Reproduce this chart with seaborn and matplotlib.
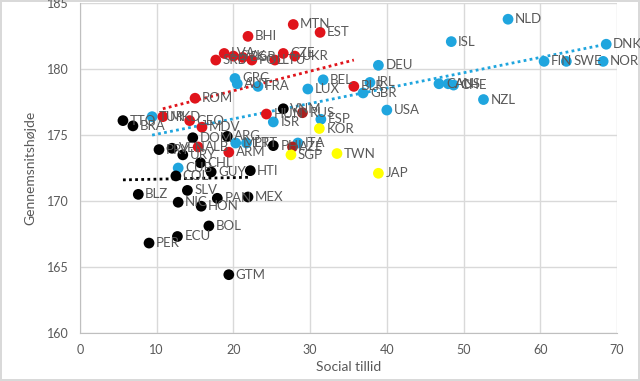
import matplotlib
matplotlib.use("Agg")
import matplotlib.pyplot as plt
import numpy as np
import pandas as pd
import seaborn as sns

# country codes, social trust (x), average height (y), group
blue_names = ['NLD', 'ISL', 'DNK', 'FIN', 'SWE', 'NOR', 'NZL', 'CAN', 'AUS', 'CHE', 'DEU',
              'GRC', 'AUT', 'FRA', 'BEL', 'LUX', 'IRL', 'GBR', 'USA', 'ESP', 'ISR', 'ITA',
              'MLT', 'PRT', 'CUB', 'TUR']
blue_x = [55.8, 48.4, 68.6, 60.5, 63.4, 68.2, 52.6, 46.8, 48.0, 48.7, 38.9,
          20.2, 20.5, 23.2, 31.7, 29.7, 37.8, 36.9, 40.0, 31.4, 25.2, 28.4,
          20.3, 21.7, 12.8, 9.4]
blue_y = [183.8, 182.1, 181.9, 180.6, 180.6, 180.6, 177.7, 178.9, 178.9, 178.8, 180.3,
          179.3, 178.9, 178.7, 179.2, 178.5, 179.0, 178.2, 176.9, 176.2, 176.0, 174.4,
          174.4, 174.4, 172.5, 176.4]

red_names = ['BHI', 'MTN', 'EST', 'SRB', 'LVA', 'SVK', 'BGR', 'POL', 'LTU', 'CZE', 'UKR',
             'ROM', 'MKD', 'GEO', 'MDV', 'ALB', 'ARM', 'HUN', 'BLR']
red_x = [21.9, 27.8, 31.3, 17.7, 18.8, 20.0, 21.2, 22.4, 25.4, 26.5, 28.0,
         15.0, 10.8, 14.3, 15.9, 15.4, 19.4, 24.3, 35.7]
red_y = [182.5, 183.4, 182.8, 180.7, 181.2, 181.0, 180.9, 180.7, 180.7, 181.2, 181.0,
         177.8, 176.4, 176.1, 175.6, 174.1, 173.7, 176.6, 178.7]

darkred_names = ['RUS', 'AZE']
darkred_x = [29.0, 27.7]
darkred_y = [176.7, 174.1]

black_names = ['TTO', 'BRA', 'DOM', 'ARG', 'PRY', 'VEN', 'URY', 'CHL', 'COL', 'GUY', 'HTI',
               'BLZ', 'SLV', 'NIC', 'HON', 'PAN', 'MEX', 'BOL', 'ECU', 'PER', 'GTM']
black_x = [5.6, 6.9, 14.7, 19.2, 10.3, 12.0, 13.4, 15.7, 12.5, 17.1, 22.2,
           7.6, 14.0, 12.8, 15.8, 17.9, 21.9, 16.8, 12.7, 9.0, 19.4]
black_y = [176.1, 175.7, 174.8, 174.9, 173.9, 174.0, 173.5, 172.9, 171.9, 172.2, 172.3,
           170.5, 170.8, 169.9, 169.6, 170.2, 170.3, 168.1, 167.3, 166.8, 164.4]

asia_black_names = ['VNM', 'PHL']
asia_black_x = [26.5, 25.2]
asia_black_y = [177.0, 174.2]

yellow_names = ['KOR', 'SGP', 'TWN', 'JAP']
yellow_x = [31.2, 27.5, 33.5, 38.9]
yellow_y = [175.5, 173.5, 173.6, 172.1]

# trend lines (start and end of each line)
trend_blue_x = [9.4, 68.6]
trend_blue_y = [175.0, 181.9]
trend_red_x = [10.8, 35.7]
trend_red_y = [177.0, 180.7]
trend_black_x = [5.6, 22.2]
trend_black_y = [171.6, 171.8]


def make_group(names, xs, ys, group):
    return pd.DataFrame({'land': names, 'tillid': xs, 'hojde': ys, 'gruppe': group})


df = pd.concat([
    make_group(blue_names, blue_x, blue_y, 'blue'),
    make_group(red_names, red_x, red_y, 'red'),
    make_group(darkred_names, darkred_x, darkred_y, 'darkred'),
    make_group(black_names, black_x, black_y, 'black'),
    make_group(asia_black_names, asia_black_x, asia_black_y, 'black2'),
    make_group(yellow_names, yellow_x, yellow_y, 'yellow'),
], ignore_index=True)

trends = pd.concat([
    pd.DataFrame({'tillid': trend_blue_x, 'hojde': trend_blue_y, 'gruppe': 'blue'}),
    pd.DataFrame({'tillid': trend_red_x, 'hojde': trend_red_y, 'gruppe': 'red'}),
    pd.DataFrame({'tillid': trend_black_x, 'hojde': trend_black_y, 'gruppe': 'black'}),
], ignore_index=True)

colors = {'blue': '#1fa5de', 'red': '#e0141b', 'darkred': '#a8201f',
          'black': '#000000', 'black2': '#000000', 'yellow': '#ffff00'}
textcolor = '#595959'
gridcolor = '#d9d9d9'

sns.set_style('white')
plt.rcParams['font.family'] = ['Lato', 'DejaVu Sans']

fig, ax = plt.subplots(figsize=(6.4, 3.81), dpi=100)
fig.subplots_adjust(left=0.125, right=0.964, top=0.991, bottom=0.127)
fig.patch.set_edgecolor('#d9d9d9')
fig.patch.set_linewidth(1.5)

# dotted linear trend lines
for grp in ['blue', 'red', 'black']:
    sub = trends[trends['gruppe'] == grp]
    sns.lineplot(data=sub, x='tillid', y='hojde', color=colors[grp], ax=ax,
                 linestyle=(0, (1, 1.2)), linewidth=2, zorder=2)

sns.scatterplot(data=df, x='tillid', y='hojde', hue='gruppe', palette=colors,
                s=60, edgecolor='none', legend=False, ax=ax, zorder=3)

for row in df.itertuples():
    ax.annotate(row.land, (row.tillid, row.hojde), xytext=(5, 0), textcoords='offset points',
                va='center', ha='left', fontsize=9.5, color=textcolor, zorder=4)

ax.set_xlim(0, 70)
ax.set_ylim(160, 185)
ax.set_xticks(range(0, 71, 10))
ax.set_yticks(range(160, 186, 5))
ax.grid(True, color=gridcolor, linewidth=1)
ax.set_axisbelow(True)
for side in ['top', 'right']:
    ax.spines[side].set_visible(False)
for side in ['left', 'bottom']:
    ax.spines[side].set_color('#bfbfbf')
ax.tick_params(axis='both', colors=textcolor, labelsize=9, length=0, pad=8)
ax.set_xlabel('Social tillid', color=textcolor, fontsize=10)
ax.set_ylabel('Gennemsnitshøjde', color=textcolor, fontsize=10, labelpad=8)

fig.savefig('out.png', dpi=100)
